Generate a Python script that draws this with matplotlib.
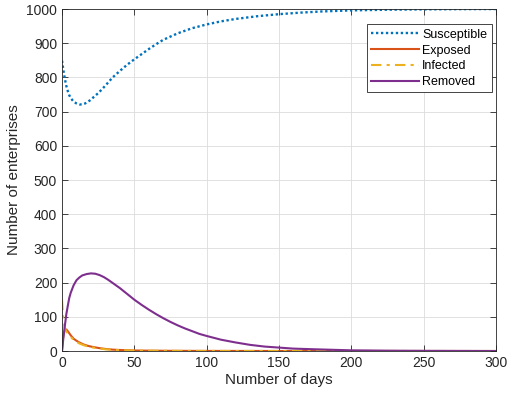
import matplotlib.pyplot as plt

plt.rcParams['font.family'] = ['Liberation Sans', 'DejaVu Sans']

# values
s_days = [0, 1, 2, 3, 4, 5, 6, 8, 10, 12, 14, 16, 18, 20, 22, 25, 28, 31, 35, 40, 45, 50,
          55, 60, 65, 70, 80, 90, 100, 110, 120, 135, 150, 165, 180, 200, 225, 250, 275, 300]
susceptible = [849, 820, 795, 775, 760, 748, 740, 729, 724, 721, 721, 724, 729, 735, 743,
               754, 767, 781, 800, 819, 837, 853, 868, 883, 897, 910, 929, 944, 955, 964,
               971, 979, 985, 989.5, 993, 996, 998, 999, 999.7, 1000]

e_days = [0, 0.5, 1, 2, 3, 4, 5, 6, 7, 8, 10, 12, 15, 18, 20, 25, 30, 35, 40, 50, 60, 80,
          100, 150, 200, 300]
exposed = [0, 30, 48, 62, 63, 58, 52, 46, 41, 36, 30, 25, 19, 15, 13, 9, 6, 4, 3, 1.5, 1,
           0.5, 0.3, 0.1, 0.05, 0]
infected = [150, 115, 90, 65, 57, 52, 47, 42, 37, 33, 27, 22, 17, 13, 11, 8, 5, 3.5, 2.5,
            1.3, 0.8, 0.4, 0.2, 0.1, 0.05, 0]

r_days = [0, 1, 2, 3, 4, 5, 6, 8, 10, 12, 14, 17, 20, 23, 26, 29, 32, 36, 40, 45, 50, 55,
          60, 65, 70, 75, 80, 85, 90, 95, 100, 110, 120, 130, 140, 150, 160, 175, 200, 225,
          250, 300]
removed = [0, 40, 75, 108, 132, 155, 170, 192, 207, 215, 221, 225, 227, 226, 222, 216, 208,
           196, 184, 167, 150, 135, 121, 108, 96, 85, 75, 66, 58, 50, 44, 33, 25, 18, 13, 10,
           7, 5, 2, 1, 0.5, 0]

fig = plt.figure(figsize=(5.07, 3.96), dpi=100)
ax = fig.add_axes([0.1223, 0.1136, 0.856, 0.8636])

ax.plot(s_days, susceptible, linestyle=(0, (1, 1.1)), color='#0072BD', lw=1.7,
        label='Susceptible')
ax.plot(e_days, exposed, '-', color='#D95319', lw=1.5, label='Exposed')
ax.plot(e_days, infected, linestyle=(0, (5, 2.5, 1.5, 2.5)), color='#EDB120', lw=1.5,
        label='Infected')
ax.plot(r_days, removed, '-', color='#7E2F8E', lw=1.5, label='Removed')

ax.set_xlim(0, 300)
ax.set_ylim(0, 1000)
ax.set_xticks(range(0, 301, 50))
ax.set_yticks(range(0, 1001, 100))
ax.tick_params(direction='in', top=True, right=True, labelsize=10, colors='#262626',
               length=4, width=0.6)
ax.grid(True, color='#dcdcdc', lw=0.6)
for sp in ax.spines.values():
    sp.set_color('#262626')
    sp.set_linewidth(0.6)

ax.set_xlabel('Number of days', fontsize=11, color='#262626', labelpad=2)
ax.set_ylabel('Number of enterprises', fontsize=11, color='#262626', labelpad=4)

leg = ax.legend(loc='upper right', bbox_to_anchor=(0.99, 0.955), fontsize=9,
                fancybox=False, framealpha=1, edgecolor='#262626', handlelength=3.8,
                borderpad=0.35, labelspacing=0.3, handletextpad=0.3, borderaxespad=0)
leg.get_frame().set_linewidth(0.6)

fig.savefig('out.png', dpi=100)
